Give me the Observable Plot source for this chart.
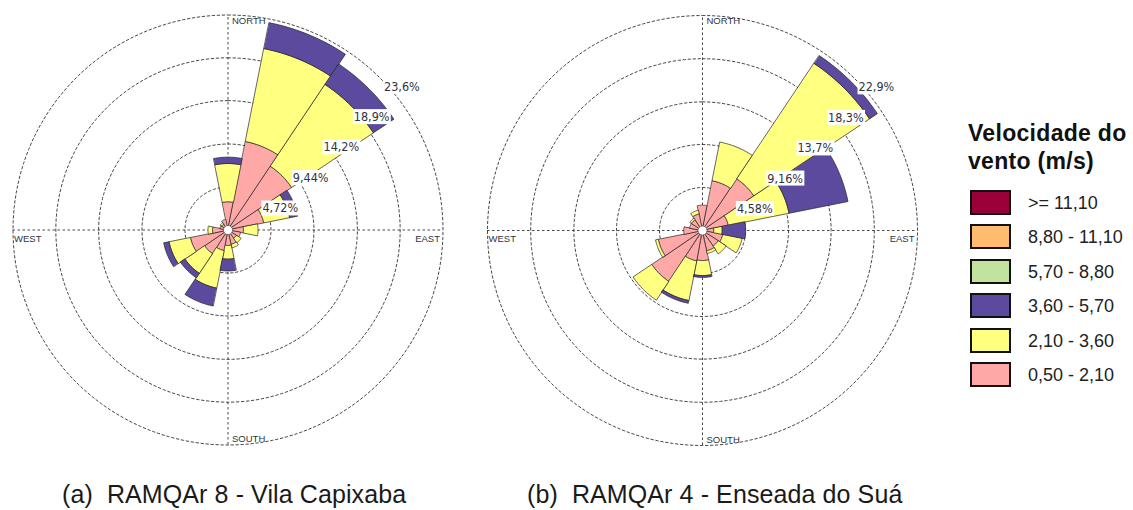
<!DOCTYPE html>
<html>
<head>
<meta charset="utf-8">
<script src="https://cdn.jsdelivr.net/npm/d3@7"></script>
<script src="https://cdn.jsdelivr.net/npm/@observablehq/plot@0.6"></script>
<style>
  html, body { margin: 0; padding: 0; background: #fff; }
  body { width: 1133px; height: 510px; overflow: hidden; position: relative; font-family: "Liberation Sans", Arial, sans-serif; }
  .rose { position: absolute; top: 0; }
  #roseA { left: 0px; }
  #roseB { left: 474px; }
  #legend { position: absolute; left: 968px; top: 0; width: 165px; height: 400px; }
  #legend .ttl { position: absolute; left: 0; top: 119px; font-weight: bold; font-size: 23px; letter-spacing: 0.3px; line-height: 28px; color: #111; white-space: nowrap; }
  #legend .sw { position: absolute; left: 2px; width: 37px; height: 21px; border: 2px solid #111; }
  #legend .lb { position: absolute; left: 60px; font-size: 18px; color: #222; white-space: nowrap; line-height: 20px; }
  .cap { position: absolute; top: 480px; font-size: 25px; letter-spacing: 0.1px; color: #1a1a1a; white-space: nowrap; }
  #capA { left: 62px; }
  #capB { left: 527px; }
</style>
</head>
<body>
<div id="roseA" class="rose"></div>
<div id="roseB" class="rose"></div>
<div id="legend"></div>
<div id="capA" class="cap">(a)&nbsp; RAMQAr 8 - Vila Capixaba</div>
<div id="capB" class="cap">(b)&nbsp; RAMQAr 4 - Enseada do Suá</div>
<script>
// ---------- data ----------
const directions = ["N","NNE","NE","ENE","E","ESE","SE","SSE","S","SSW","SW","WSW","W","WNW","NW","NNW"];
const cardinals = ["NORTH","EAST","SOUTH","WEST"];

// legend classes (wind speed, m/s), top to bottom
const classLabels = [">= 11,10", "8,80 - 11,10", "5,70 - 8,80", "3,60 - 5,70", "2,10 - 3,60", "0,50 - 2,10"];
const classColors = ["#9b0039", "#ffbb6e", "#c2e3a0", "#5c4a9e", "#ffff80", "#ffa8a8"];

// (a) RAMQAr 8 - Vila Capixaba : frequency (%) by direction
const capixaba_050_210 = [3.1, 9.9, 8.4, 4.0, 1.7, 1.4, 1.1, 1.6, 1.7, 2.3, 3.1, 4.2, 1.7, 0.9, 0.8, 1.2];
const capixaba_210_360 = [4.2, 10.4, 10.8, 2.9, 1.6, 0.0, 0.6, 0.4, 1.5, 4.2, 2.6, 2.4, 0.5, 0.0, 0.2, 0.0];
const capixaba_360_570 = [0.7, 2.9, 2.7, 0.9, 0.0, 0.0, 0.0, 0.0, 1.3, 2.0, 0.6, 0.6, 0.0, 0.0, 0.0, 0.0];
const capixabaRings = [4.72, 9.44, 14.2, 18.9, 23.6];
const capixabaRingLabels = ["4,72%", "9,44%", "14,2%", "18,9%", "23,6%"];

// (b) RAMQAr 4 - Enseada do Suá : frequency (%) by direction
const enseada_050_210 = [2.7, 5.4, 6.6, 2.8, 1.2, 2.2, 2.0, 2.2, 3.2, 3.3, 6.5, 4.8, 2.0, 1.4, 1.4, 1.8];
const enseada_210_360 = [0.0, 4.2, 14.8, 6.6, 0.9, 2.1, 1.0, 0.3, 1.6, 4.3, 2.4, 0.3, 0.0, 0.0, 0.2, 0.4];
const enseada_360_570 = [0.0, 0.0, 1.0, 6.4, 2.5, 0.0, 0.0, 0.0, 0.2, 0.3, 0.0, 0.0, 0.0, 0.0, 0.0, 0.0];
const enseadaRings = [4.58, 9.16, 13.7, 18.3, 22.9];
const enseadaRingLabels = ["4,58%", "9,16%", "13,7%", "18,3%", "22,9%"];

// ---------- helpers ----------
const rad = d => d * Math.PI / 180;

function wedgePoints(series) {
  // series: array of [values per direction] from innermost class outward
  const out = [];
  directions.forEach((d, i) => {
    let r0 = 0;
    series.forEach((vals, c) => {
      const v = vals[i];
      const r1 = r0 + v;
      if (v > 0) {
        const a0 = rad(i * 22.5 - 11.25), a1 = rad(i * 22.5 + 11.25);
        const n = 16;
        for (let k = 0; k <= n; k++) { const a = a0 + (a1 - a0) * k / n; out.push({x: r1 * Math.sin(a), y: r1 * Math.cos(a), id: d + "-" + c, cls: c}); }
        for (let k = n; k >= 0; k--) { const a = a0 + (a1 - a0) * k / n; out.push({x: r0 * Math.sin(a), y: r0 * Math.cos(a), id: d + "-" + c, cls: c}); }
      }
      r0 = r1;
    });
  });
  return out;
}

function rose(el, cx, cy, rings, ringLabels, series) {
  const W = 470, H = 470;
  const R = rings[rings.length - 1];
  const k = 215 / R;
  const pts = wedgePoints(series);
  const circ = [];
  rings.forEach(r => { for (let a = 0; a < 360; a += 2) circ.push({x: r * Math.sin(rad(a)), y: r * Math.cos(rad(a)), ring: r}); });
  const ringLab = rings.map((r, i) => ({x: r * Math.SQRT1_2, y: r * Math.SQRT1_2, t: ringLabels[i]}));
  const card = [
    {x: 0, y: R, t: cardinals[0], anchor: "start", line: "top", dx: 4, dy: 2},
    {x: R, y: 0, t: cardinals[1], anchor: "end", line: "top", dx: -3, dy: 5},
    {x: 0, y: -R, t: cardinals[2], anchor: "start", line: "bottom", dx: 4, dy: -3},
    {x: -R, y: 0, t: cardinals[3], anchor: "start", line: "top", dx: 1, dy: 5}
  ];
  // colors for inner->outer classes: pink, yellow, purple
  const seriesColors = [classColors[5], classColors[4], classColors[3]];
  const dash = {stroke: "#333", strokeWidth: 0.9, strokeDasharray: "2.5,2.5"};
  const marks = [
    Plot.line(circ, {x: "x", y: "y", z: "ring", curve: "linear-closed", ...dash}),
    Plot.ruleX([0], {y1: -R, y2: R, ...dash}),
    Plot.ruleY([0], {x1: -R, x2: R, ...dash})
  ];
  seriesColors.forEach((col, c) => {
    marks.push(Plot.line(pts.filter(p => p.cls === c), {x: "x", y: "y", z: "id", curve: "linear-closed", fill: col, stroke: "#222", strokeWidth: 0.7, strokeLinejoin: "miter"}));
  });
  marks.push(Plot.dot([[0, 0]], {r: 4.5, fill: "white", stroke: "#444", strokeWidth: 0.6}));
  ringLab.forEach(d => marks.push(Plot.text([d], {x: "x", y: "y", text: "t", textAnchor: "start", lineAnchor: "top", dx: 4, dy: 4, fontSize: 12.5, fill: "#2f3440", fontFamily: "'Liberation Sans Narrow', 'DejaVu Sans Condensed', sans-serif"})));
  card.forEach(d => marks.push(Plot.text([d], {x: "x", y: "y", text: "t", textAnchor: d.anchor, lineAnchor: d.line, dx: d.dx, dy: d.dy, fontSize: 9.5, fill: "#2f3440", fontFamily: "'Liberation Sans', sans-serif"})));

  const svg = Plot.plot({
    width: W, height: H, margin: 0,
    x: {type: "linear", domain: [-cx / k, (W - cx) / k], range: [0, W], axis: null},
    y: {type: "linear", domain: [cy / k, -(H - cy) / k], range: [0, H], axis: null},
    style: {background: "transparent", overflow: "visible"},
    marks
  });
  document.getElementById(el).appendChild(svg);
  // white boxes behind ring labels
  svg.querySelectorAll("text").forEach(t => {
    if (!/%$/.test(t.textContent)) return;
    const b = t.getBBox();
    const rect = document.createElementNS("http://www.w3.org/2000/svg", "rect");
    rect.setAttribute("x", b.x - 1);
    rect.setAttribute("y", b.y);
    rect.setAttribute("width", b.width + 2);
    rect.setAttribute("height", b.height);
    rect.setAttribute("fill", "white");
    if (t.getAttribute("transform")) rect.setAttribute("transform", t.getAttribute("transform"));
    t.parentNode.insertBefore(rect, t);
  });
}

rose("roseA", 227.5, 229.5, capixabaRings, capixabaRingLabels, [capixaba_050_210, capixaba_210_360, capixaba_360_570]);
rose("roseB", 228, 230, enseadaRings, enseadaRingLabels, [enseada_050_210, enseada_210_360, enseada_360_570]);

// ---------- legend ----------
const legend = d3.select("#legend");
legend.append("div").attr("class", "ttl").html("Velocidade do<br>vento (m/s)");
classLabels.forEach((lab, i) => {
  const top = 190 + i * 34.4;
  legend.append("div").attr("class", "sw").style("top", top + "px").style("background", classColors[i]);
  legend.append("div").attr("class", "lb").style("top", (top + 3) + "px").text(lab);
});
</script>
</body>
</html>
